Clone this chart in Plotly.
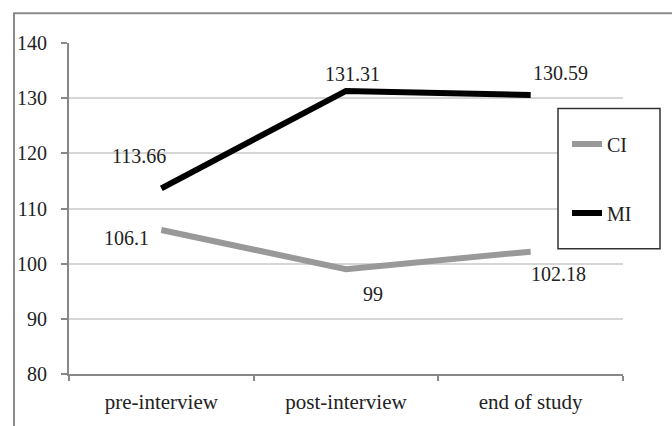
import plotly.graph_objects as go

categories = ["pre-interview", "post-interview", "end of study"]
ci_values = [106.1, 99, 102.18]
mi_values = [113.66, 131.31, 130.59]
ci_labels = ["106.1", "99", "102.18"]
mi_labels = ["113.66", "131.31", "130.59"]

W, H = 672, 426
L, R, T, B = 69, 49, 43, 50
PW, PH = W - L - R, H - T - B

def px(x):
    return (x - L) / PW

def py(y):
    return (H - B - y) / PH

FONT = "Liberation Serif"

fig = go.Figure()
fig.add_trace(go.Scatter(x=categories, y=ci_values, mode="lines", name="CI",
                         line=dict(color="#999999", width=6), legendgroup="ci"))
fig.add_trace(go.Scatter(x=categories, y=mi_values, mode="lines", name="MI",
                         line=dict(color="#000000", width=6), legendgroup="mi"))

mi_shifts = [(-22, 32), (6, 17), (30, 22)]
ci_shifts = [(-35, -8), (27, -25), (28, -22)]
annotations = []
for cat, val, lab, (dx, dy) in zip(categories, mi_values, mi_labels, mi_shifts):
    annotations.append(dict(x=cat, y=val, xref="x", yref="y", text=lab, showarrow=False,
                            xshift=dx, yshift=dy, font=dict(family=FONT, size=20, color="#222")))
for cat, val, lab, (dx, dy) in zip(categories, ci_values, ci_labels, ci_shifts):
    annotations.append(dict(x=cat, y=val, xref="x", yref="y", text=lab, showarrow=False,
                            xshift=dx, yshift=dy, font=dict(family=FONT, size=20, color="#222")))

fig.update_layout(
    width=W, height=H,
    margin=dict(l=L, r=R, t=T, b=B, pad=0),
    paper_bgcolor="white", plot_bgcolor="white",
    font=dict(family=FONT, size=20, color="#222"),
    annotations=annotations,
    legend=dict(x=px(567), y=py(125), xanchor="left", yanchor="top",
                borderwidth=0, bgcolor="rgba(0,0,0,0)",
                tracegroupgap=40, font=dict(family=FONT, size=20, color="#222"),
                itemwidth=30),
    shapes=[
        dict(type="path", xref="paper", yref="paper",
             path=f"M {px(14)} {py(460)} L {px(14)} {py(13)} L {px(700)} {py(13)}",
             line=dict(color="#8a8a8a", width=2), layer="below"),
        dict(type="rect", xref="paper", yref="paper",
             x0=px(558), x1=px(660), y0=py(250), y1=py(109),
             line=dict(color="#333", width=1.5), fillcolor="white", layer="above"),
    ],
)
fig.update_xaxes(type="category", range=[-0.5, 2.5], showgrid=False,
                 showline=True, linecolor="#888", linewidth=2,
                 ticks="outside", tickson="boundaries", ticklen=5, tickcolor="#888", tickwidth=2,
                 ticklabelstandoff=8, tickfont=dict(family=FONT, size=21, color="#222"))
fig.update_yaxes(range=[80, 140], dtick=10, showgrid=True, gridcolor="#d6d6d6", gridwidth=1.5,
                 showline=True, linecolor="#888", linewidth=2, zeroline=False,
                 ticks="outside", ticklen=6, tickcolor="#888", tickwidth=2,
                 ticklabelstandoff=10, tickfont=dict(family=FONT, size=20, color="#222"))

fig.write_html("out.html", config={"displayModeBar": False},
               post_script="document.body.style.margin='0';")
